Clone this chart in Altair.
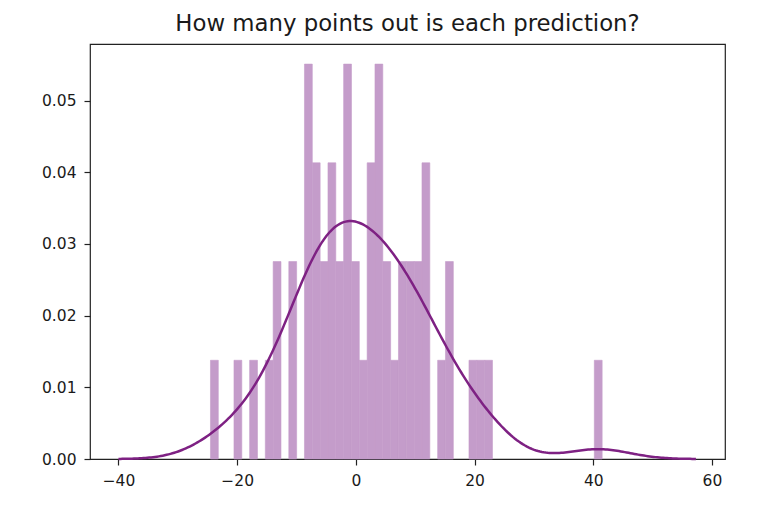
import altair as alt
import pandas as pd
import numpy as np

# Histogram (50 bins)
hist_lo = -24.5
hist_hi = 41.5
counts = [1, 0, 0, 1, 0, 1, 0, 1, 2, 0,
          2, 0, 4, 3, 2, 3, 2, 4, 2, 1,
          3, 4, 2, 1, 2, 2, 2, 3, 0, 1,
          2, 0, 0, 1, 1, 1, 0, 0, 0, 0,
          0, 0, 0, 0, 0, 0, 0, 0, 0, 1]

x_ticks = [-40, -20, 0, 20, 40, 60]
y_ticks = [0.0, 0.01, 0.02, 0.03, 0.04, 0.05]
title_text = "How many points out is each prediction?"

n_bins = len(counts)
edges = np.linspace(hist_lo, hist_hi, n_bins + 1)
width_bin = edges[1] - edges[0]
total = sum(counts)
hist_df = pd.DataFrame({
    "start": edges[:-1],
    "end": edges[1:],
    "density": [c / (total * width_bin) for c in counts],
})

# samples (bin centres, repeated by count) for the library's KDE
centres = (edges[:-1] + edges[1:]) / 2
samples = np.repeat(centres, counts)
kde_df = pd.DataFrame({"value": samples})

x_scale = alt.Scale(domain=[-44.8, 62.2], nice=False, zero=False)
y_scale = alt.Scale(domain=[0, 0.0579], nice=False)

bar_color = "#c49cca"

bars = alt.Chart(hist_df).mark_bar(
    color=bar_color, stroke=bar_color, strokeWidth=0.6, binSpacing=0
).encode(
    x=alt.X("start:Q", scale=x_scale,
            axis=alt.Axis(values=x_ticks, title=None, format="d")),
    x2="end:Q",
    y=alt.Y("density:Q", scale=y_scale,
            axis=alt.Axis(values=y_ticks, title=None, format=".2f")),
    y2=alt.datum(0),
).transform_filter("datum.density > 0")

kde = alt.Chart(kde_df).transform_density(
    "value", as_=["value", "density"], bandwidth=5.3, extent=[-40, 57.3], steps=300
).mark_line(color="#7e2183", strokeWidth=2.5).encode(
    x=alt.X("value:Q", scale=x_scale),
    y=alt.Y("density:Q", scale=y_scale),
)

chart = alt.layer(bars, kde).properties(
    width=635,
    height=415,
    title=alt.TitleParams(title_text, fontSize=22.8, fontWeight="normal",
                          font="DejaVu Sans", color="#1a1a1a", offset=8),
    autosize=alt.AutoSizeParams(type="none"),
    padding={"left": 82, "top": 36, "right": 30, "bottom": 40},
).configure_view(
    stroke="#222222", strokeWidth=1.2
).configure_axis(
    labelFont="DejaVu Sans", labelFontSize=15.5, labelColor="#1a1a1a",
    tickColor="#222222", tickSize=6, tickWidth=1.2, labelPadding=8,
    labelFlush=False, domain=False, grid=False,
)

chart.save("out.html", embed_options={"renderer": "svg", "actions": False})
